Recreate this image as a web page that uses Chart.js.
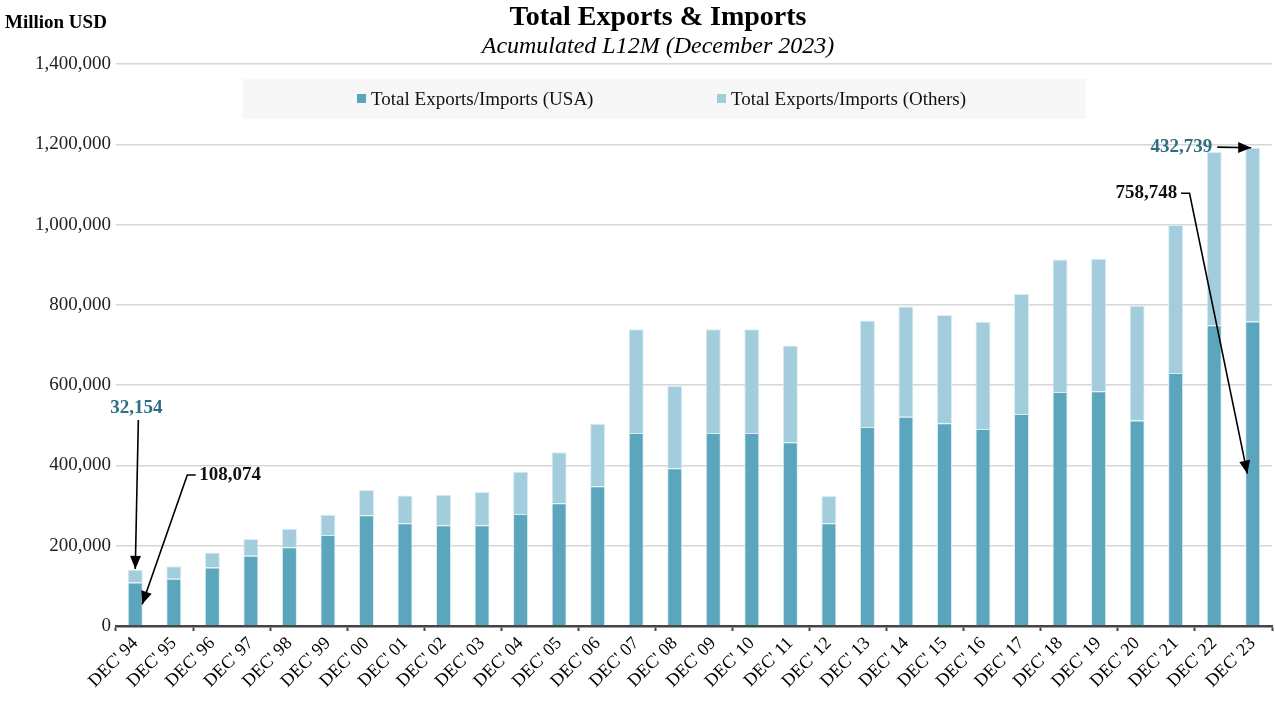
<!DOCTYPE html>
<html>
<head>
<meta charset="utf-8">
<script src="https://cdn.jsdelivr.net/npm/chart.js@4.4.0/dist/chart.umd.min.js"></script>
<style>
  html, body { margin: 0; padding: 0; background: #fff; }
  #wrap { width: 1275px; height: 701px; position: relative; }
</style>
</head>
<body>
<div id="wrap"><canvas id="grafikDagang"></canvas></div>
<script>
// ====== DATA ======
const labels = ["DEC' 94", "DEC' 95", "DEC' 96", "DEC' 97", "DEC' 98", "DEC' 99", "DEC' 00", "DEC' 01", "DEC' 02", "DEC' 03",
  "DEC' 04", "DEC' 05", "DEC' 06", "DEC' 07", "DEC' 08", "DEC' 09", "DEC' 10", "DEC' 11", "DEC' 12", "DEC' 13",
  "DEC' 14", "DEC' 15", "DEC' 16", "DEC' 17", "DEC' 18", "DEC' 19", "DEC' 20", "DEC' 21", "DEC' 22", "DEC' 23"];

const usaValues = [108074, 118000, 146000, 175000, 196000, 227000, 276000, 256000, 251000, 251000,
  279000, 306000, 348000, 481000, 393000, 481000, 481000, 458000, 256000, 496000,
  521000, 505000, 491000, 528000, 583000, 585000, 512000, 630000, 749000, 758748];

const othersValues = [32154, 31000, 37000, 42000, 46000, 50000, 63000, 69000, 76000, 83000,
  105000, 127000, 156000, 258000, 205000, 258000, 258000, 241000, 68000, 265000,
  275000, 270000, 267000, 299000, 330000, 330000, 286000, 369000, 432000, 432739];

const yTickValues = [0, 200000, 400000, 600000, 800000, 1000000, 1200000, 1400000];

const seriesNames = ["Total Exports/Imports (USA)", "Total Exports/Imports (Others)"];

// warna
const warnaUSA = "#5BA6BD";
const warnaOthers = "#A3CCDC";
const warnaTeal = "#2F6E82";
const FONT = "'Liberation Serif', 'Times New Roman', serif";

// ====== ANOTASI (posisi dalam koordinat data: indeks kategori, nilai) ======
const last = labels.length - 1;
const callouts = [
  { text: "32,154", color: warnaTeal, align: "center", at: [0.03, 543000],
    path: [[0.08, 513000], [0, usaValues[0] + othersValues[0] + 2000]] },
  { text: "108,074", color: "#111", align: "left", at: [1.66, 376000],
    path: [[1.57, 376000], [1.35, 376000], [0.18, usaValues[0] / 2]] },
  { text: "432,739", color: warnaTeal, align: "right", at: [27.95, 1193000],
    path: [[28.08, 1193000], [28.96, usaValues[last] + othersValues[last]]] },
  { text: "758,748", color: "#111", align: "right", at: [27.04, 1078000],
    path: [[27.14, 1078000], [27.36, 1078000], [28.86, usaValues[last] / 2]] }
];

function formatAngka(v) {
  return v.toLocaleString("en-US");
}

// ====== PLUGIN: judul, legenda, anotasi ======
const pluginHiasan = {
  id: "hiasan",
  afterDraw(chart) {
    const ctx = chart.ctx;
    const area = chart.chartArea;
    const x = chart.scales.x;
    const y = chart.scales.y;
    ctx.save();

    // judul
    ctx.fillStyle = "#000";
    ctx.textAlign = "center";
    ctx.textBaseline = "middle";
    ctx.font = "bold 28px " + FONT;
    ctx.fillText("Total Exports & Imports", 658, 18);
    ctx.font = "italic 24px " + FONT;
    ctx.fillText("Acumulated L12M (December 2023)", 658, 47);

    ctx.textAlign = "left";
    ctx.font = "bold 19px " + FONT;
    ctx.fillText("Million USD", 5, 23);

    // legenda
    ctx.fillStyle = "#F7F7F7";
    ctx.fillRect(243, 79, 843, 40);
    const warna = [warnaUSA, warnaOthers];
    const posX = [357, 717];
    ctx.font = "19px " + FONT;
    seriesNames.forEach((nama, i) => {
      ctx.fillStyle = warna[i];
      ctx.fillRect(posX[i], 94, 9, 9);
      ctx.fillStyle = "#111";
      ctx.fillText(nama, posX[i] + 14, 100);
    });

    // anotasi
    callouts.forEach((c) => {
      ctx.font = "bold 19px " + FONT;
      ctx.fillStyle = c.color;
      ctx.textAlign = c.align;
      ctx.textBaseline = "middle";
      ctx.fillText(c.text, x.getPixelForValue(c.at[0]), y.getPixelForValue(c.at[1]));

      const pts = c.path.map((p) => [x.getPixelForValue(p[0]), y.getPixelForValue(p[1])]);
      ctx.strokeStyle = "#000";
      ctx.lineWidth = 1.6;
      ctx.beginPath();
      ctx.moveTo(pts[0][0], pts[0][1]);
      for (let i = 1; i < pts.length; i++) ctx.lineTo(pts[i][0], pts[i][1]);
      ctx.stroke();

      // kepala panah
      const a = pts[pts.length - 2];
      const b = pts[pts.length - 1];
      const ang = Math.atan2(b[1] - a[1], b[0] - a[0]);
      const len = 13, lebar = 5.5;
      ctx.fillStyle = "#000";
      ctx.beginPath();
      ctx.moveTo(b[0], b[1]);
      ctx.lineTo(b[0] - len * Math.cos(ang) + lebar * Math.sin(ang), b[1] - len * Math.sin(ang) - lebar * Math.cos(ang));
      ctx.lineTo(b[0] - len * Math.cos(ang) - lebar * Math.sin(ang), b[1] - len * Math.sin(ang) + lebar * Math.cos(ang));
      ctx.closePath();
      ctx.fill();
    });

    ctx.restore();
  }
};

// ====== GRAFIK ======
const ctx = document.getElementById("grafikDagang").getContext("2d");
new Chart(ctx, {
  type: "bar",
  data: {
    labels: labels,
    datasets: [
      {
        label: seriesNames[0],
        data: usaValues,
        backgroundColor: warnaUSA,
        borderColor: "#D8EDF3",
        borderWidth: 1,
        categoryPercentage: 1,
        barPercentage: 0.39
      },
      {
        label: seriesNames[1],
        data: othersValues,
        backgroundColor: warnaOthers,
        borderColor: "#D8EDF3",
        borderWidth: 1,
        categoryPercentage: 1,
        barPercentage: 0.39
      }
    ]
  },
  options: {
    responsive: true,
    maintainAspectRatio: false,
    animation: false,
    layout: { padding: { top: 64, right: 3, bottom: 0, left: 0 } },
    plugins: {
      legend: { display: false },
      tooltip: { enabled: false }
    },
    scales: {
      x: {
        stacked: true,
        afterFit: (scale) => { scale.height = 75; },
        grid: {
          display: true,
          drawOnChartArea: false,
          drawTicks: true,
          tickLength: 5,
          tickWidth: 2,
          tickColor: (c) => (c.index === undefined || c.index % 2 === 0) ? "#444" : "rgba(0,0,0,0)"
        },
        border: { display: true, color: "#444", width: 2.5 },
        ticks: {
          autoSkip: false,
          minRotation: 45,
          maxRotation: 45,
          padding: 2,
          color: "#000",
          font: { family: FONT, size: 18 }
        }
      },
      y: {
        stacked: true,
        min: 0,
        max: 1400000,
        afterFit: (scale) => { scale.width = 116; },
        afterBuildTicks: (scale) => { scale.ticks = yTickValues.map((v) => ({ value: v })); },
        grid: { color: "#D6D6D6", lineWidth: 1.5, drawTicks: false },
        border: { display: false },
        ticks: {
          padding: 5,
          color: "#222",
          font: { family: FONT, size: 19 },
          callback: (v) => formatAngka(v)
        }
      }
    }
  },
  plugins: [pluginHiasan]
});
</script>
</body>
</html>
